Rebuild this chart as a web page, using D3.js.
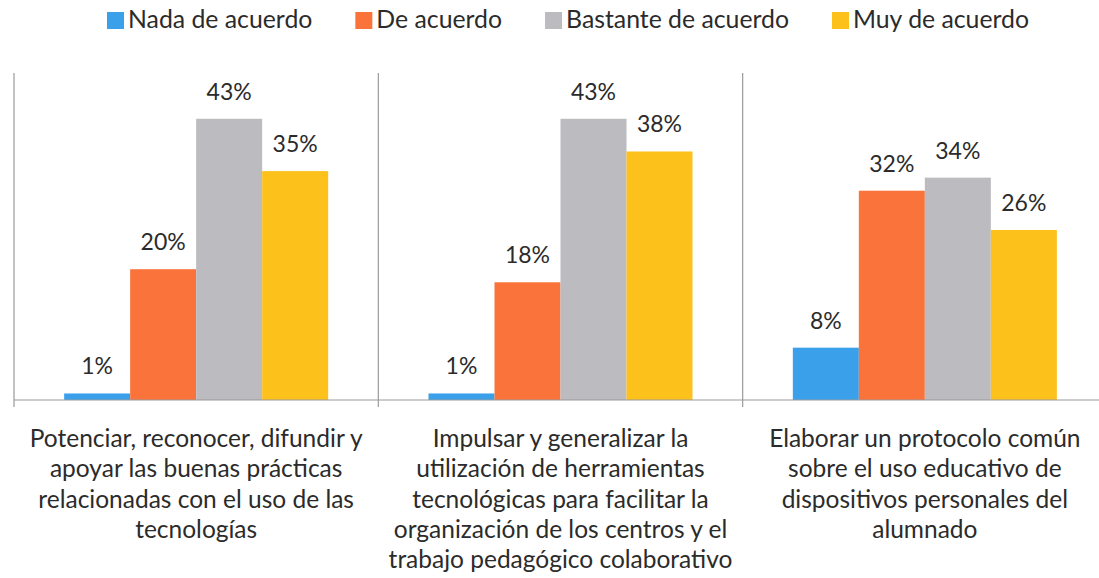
<!DOCTYPE html>
<html>
<head>
<meta charset="utf-8">
<script src="https://cdn.jsdelivr.net/npm/d3@7"></script>
<style>
  html, body { margin: 0; padding: 0; background: #fff; }
  svg { display: block; }
  text { font-family: Lato, "Open Sans", sans-serif; fill: #2b2b2b; }
</style>
</head>
<body>
<svg id="chart" width="1099" height="578"></svg>
<script>
// ---- data ----
const categories = [
  ["Potenciar, reconocer, difundir y", "apoyar las buenas prácticas", "relacionadas con el uso de las", "tecnologías"],
  ["Impulsar y generalizar la", "utilización de herramientas", "tecnológicas para facilitar la", "organización de los centros y el", "trabajo pedagógico colaborativo"],
  ["Elaborar un protocolo común", "sobre el uso educativo de", "dispositivos personales del", "alumnado"]
];
const categoryIds = ["c1", "c2", "c3"];
const seriesNames = ["Nada de acuerdo", "De acuerdo", "Bastante de acuerdo", "Muy de acuerdo"];
const nadaDeAcuerdo = [1, 1, 8];
const deAcuerdo = [20, 18, 32];
const bastanteDeAcuerdo = [43, 43, 34];
const muyDeAcuerdo = [35, 38, 26];
const seriesColors = ["#3BA0EA", "#FA733A", "#BBBBC0", "#FCC11A"];

const seriesValues = [nadaDeAcuerdo, deAcuerdo, bastanteDeAcuerdo, muyDeAcuerdo];

// ---- layout ----
const svg = d3.select("#chart");
const plotLeft = 14, plotRight = 1107, plotTop = 73, plotBottom = 400;

const x0 = d3.scaleBand().domain(categoryIds).range([plotLeft, plotRight]).paddingInner(0).paddingOuter(0);
const x1 = d3.scaleBand().domain(seriesNames).range([0, x0.bandwidth()]).paddingInner(0).paddingOuter(0.76);
const y = d3.scaleLinear().domain([0, 50]).range([plotBottom, plotTop]);

// separators
svg.append("g").selectAll("line").data(categoryIds).join("line")
  .attr("x1", d => x0(d)).attr("x2", d => x0(d))
  .attr("y1", plotTop).attr("y2", plotBottom + 7)
  .attr("stroke", "#9a9a9a").attr("stroke-width", 1.2);

// bars
const groups = svg.append("g").selectAll("g").data(categoryIds).join("g")
  .attr("transform", d => `translate(${x0(d)},0)`);

groups.each(function(cid, ci) {
  const g = d3.select(this);
  const rows = seriesNames.map((s, si) => ({ s, si, v: seriesValues[si][ci] }));
  g.selectAll("rect").data(rows).join("rect")
    .attr("x", d => x1(d.s))
    .attr("y", d => y(d.v))
    .attr("width", x1.bandwidth())
    .attr("height", d => y(0) - y(d.v))
    .attr("fill", d => seriesColors[d.si]);
  g.selectAll("text.val").data(rows).join("text")
    .attr("class", "val")
    .attr("x", d => x1(d.s) + x1.bandwidth() / 2)
    .attr("y", d => y(d.v))
    .attr("dy", -19)
    .attr("text-anchor", "middle")
    .attr("font-size", 23)
    .text(d => d.v + "%");
});

// baseline
svg.append("line")
  .attr("x1", plotLeft).attr("x2", 1099)
  .attr("y1", plotBottom).attr("y2", plotBottom)
  .attr("stroke", "#9a9a9a").attr("stroke-width", 1.2);

// category labels
const catG = svg.append("g").selectAll("text").data(categoryIds).join("text")
  .attr("x", d => x0(d) + x0.bandwidth() / 2)
  .attr("y", 447)
  .attr("text-anchor", "middle")
  .attr("font-size", 24.5);
catG.each(function(cid, ci) {
  d3.select(this).selectAll("tspan").data(categories[ci]).join("tspan")
    .attr("x", x0(cid) + x0.bandwidth() / 2)
    .attr("dy", (d, i) => i === 0 ? 0 : 30.3)
    .text(d => d);
});

// legend
const legend = svg.append("g");
let lx = 107;
seriesNames.forEach((s, i) => {
  legend.append("rect").attr("x", lx).attr("y", 12).attr("width", 17).attr("height", 17).attr("fill", seriesColors[i]);
  const t = legend.append("text").attr("x", lx + 21).attr("y", 28).attr("font-size", 24.8).text(s);
  lx += 21 + t.node().getComputedTextLength() + 43;
});
</script>
</body>
</html>
